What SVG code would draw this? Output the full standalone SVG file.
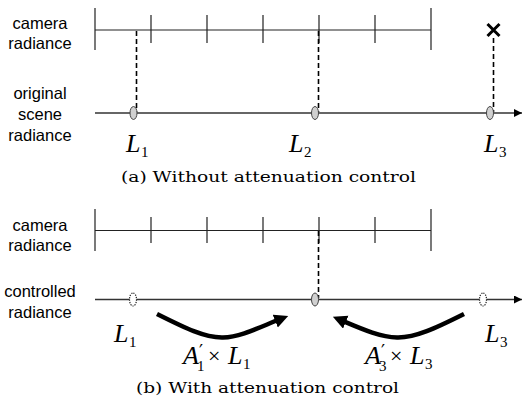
<svg xmlns="http://www.w3.org/2000/svg" width="526" height="402" viewBox="0 0 526 402">
<style>
.bg{fill:#fff}
.lbl{font-family:"Liberation Sans",Arial,sans-serif;font-size:16.5px;fill:#000;text-anchor:middle}
.cap{font-family:"DejaVu Serif","Liberation Serif",serif;font-size:15px;fill:#000}
.m{font-family:"Liberation Serif","Times New Roman",serif;font-size:26px;font-style:italic;fill:#000}
.sub{font-family:"Liberation Serif","Times New Roman",serif;font-size:15px;fill:#000}
.pr{font-family:"DejaVu Serif","Liberation Serif",serif;font-size:18px;fill:#000}
.times{font-family:"Liberation Serif","Times New Roman",serif;font-size:22px;fill:#000}
.scale{stroke:#222;stroke-width:1.2;fill:none}
.axis{stroke:#333;stroke-width:1.6;fill:none}
.dash{stroke:#000;stroke-width:1.6;stroke-dasharray:5,3;fill:none}
.pt{fill:#d0d0d0;stroke:#444;stroke-width:1}
.ghost{fill:#fff;stroke:#222;stroke-width:1.2;stroke-dasharray:1.2,1.2}
.curve{stroke:#000;stroke-width:4.5;fill:none;stroke-linecap:butt}
</style>
<defs>
<marker id="ah" markerUnits="userSpaceOnUse" markerWidth="10" markerHeight="10" refX="8" refY="4" orient="auto"><path d="M0,0 L8,4 L0,8 z" fill="#000"/></marker>
<marker id="big" markerUnits="userSpaceOnUse" markerWidth="16" markerHeight="16" refX="3" refY="7" orient="auto"><path d="M0,0 L14,7 L0,14 z" fill="#000"/></marker>
</defs>
<rect class="bg" x="0" y="0" width="526" height="402"/>

<g id="panel-a">
  <g id="a-labels">
    <text class="lbl" x="40" y="29">camera</text>
    <text class="lbl" x="40" y="49">radiance</text>
    <text class="lbl" x="40" y="99">original</text>
    <text class="lbl" x="40" y="120">scene</text>
    <text class="lbl" x="40" y="141">radiance</text>
  </g>
  <g id="a-camera-scale">
    <path class="scale" d="M95,30 H431 M95,8 V50 M431,8 V50 M151,15 V43 M207,15 V43 M263,15 V43 M319,15 V43 M375,15 V43"/>
  </g>
  <g id="a-scene-axis">
    <line class="axis" x1="95" y1="113" x2="522" y2="113" marker-end="url(#ah)"/>
  </g>
  <g id="a-connectors">
    <line class="dash" x1="136.5" y1="31" x2="136.5" y2="112"/>
    <line class="dash" x1="318.5" y1="31" x2="318.5" y2="112"/>
    <line class="dash" x1="493.5" y1="38" x2="493.5" y2="112"/>
  </g>
  <g id="a-L1"><ellipse class="pt" cx="133.5" cy="113" rx="3.5" ry="6.5"/>
    <text class="m" x="126" y="152">L</text><text class="sub" x="141" y="157">1</text></g>
  <g id="a-L2"><ellipse class="pt" cx="315" cy="113" rx="3.5" ry="6.5"/>
    <text class="m" x="289" y="152">L</text><text class="sub" x="304" y="157">2</text></g>
  <g id="a-L3"><ellipse class="pt" cx="490" cy="113" rx="3.5" ry="6.5"/>
    <text class="m" x="484" y="152">L</text><text class="sub" x="499" y="157">3</text></g>
  <g id="a-x"><path d="M487.5,24 L499.5,36 M499.5,24 L487.5,36" stroke="#000" stroke-width="3"/></g>
  <text class="cap" x="121" y="182" textLength="295" lengthAdjust="spacingAndGlyphs">(a) Without attenuation control</text>
</g>

<g id="panel-b">
  <g id="b-labels">
    <text class="lbl" x="40" y="231">camera</text>
    <text class="lbl" x="40" y="251">radiance</text>
    <text class="lbl" x="40" y="297">controlled</text>
    <text class="lbl" x="40" y="318">radiance</text>
  </g>
  <g id="b-camera-scale">
    <path class="scale" d="M95,230.5 H431 M95,209 V251 M431,209 V251 M151,217 V243 M207,217 V243 M263,217 V243 M319,217 V243 M375,217 V243"/>
  </g>
  <g id="b-axis">
    <line class="axis" x1="95" y1="299.5" x2="522" y2="299.5" marker-end="url(#ah)"/>
  </g>
  <g id="b-connectors">
    <line class="dash" x1="318.5" y1="231" x2="318.5" y2="298"/>
    <path class="curve" d="M157,314 C185,328 205,338 223,337.5 C240,337 258,328 278,320" marker-end="url(#big)"/>
    <path class="curve" d="M464,314 C436,328 415,338 397,337.5 C380,337 362,329 343,321" marker-end="url(#big)"/>
  </g>
  <g id="b-L1"><ellipse class="ghost" cx="133" cy="299.5" rx="3.5" ry="6.5"/>
    <text class="m" x="114" y="342">L</text><text class="sub" x="129" y="347">1</text></g>
  <g id="b-L2"><ellipse class="pt" cx="315" cy="299.5" rx="3.5" ry="6.5"/></g>
  <g id="b-L3"><ellipse class="ghost" cx="483" cy="299.5" rx="3.5" ry="6.5"/>
    <text class="m" x="485" y="342">L</text><text class="sub" x="500" y="347">3</text></g>
  <g id="b-A1">
    <text class="m" x="183" y="364">A</text><text class="pr" x="199" y="358">′</text><text class="sub" x="197" y="371">1</text>
    <text class="times" x="208" y="363">×</text>
    <text class="m" x="228" y="364">L</text><text class="sub" x="243" y="369">1</text>
  </g>
  <g id="b-A3">
    <text class="m" x="365" y="364">A</text><text class="pr" x="381" y="358">′</text><text class="sub" x="379" y="371">3</text>
    <text class="times" x="390" y="363">×</text>
    <text class="m" x="410" y="364">L</text><text class="sub" x="425" y="369">3</text>
  </g>
  <text class="cap" x="136" y="393" textLength="263" lengthAdjust="spacingAndGlyphs">(b) With attenuation control</text>
</g>
</svg>
